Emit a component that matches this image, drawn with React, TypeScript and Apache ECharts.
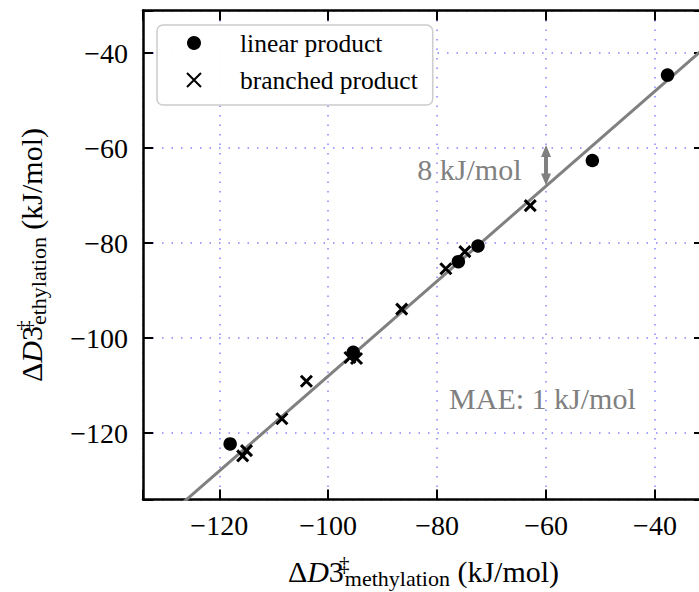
import React, { useEffect, useRef } from 'react';
import * as echarts from 'echarts';

// ---- data ----
const linearX = [-37.7, -51.5, -72.5, -76.1, -95.4, -118.0];
const linearY = [-44.6, -62.6, -80.6, -83.9, -103.0, -122.3];
const branchedX = [-62.9, -74.9, -78.4, -86.5, -96.0, -94.8, -104.0, -108.5, -115.0, -115.7];
const branchedY = [-72.1, -81.8, -85.4, -93.9, -104.1, -104.3, -109.1, -117.0, -123.7, -124.8];
const fitX = [-140, -20];
const fitY = [-148, -28];
const axisMin = -134;
const axisMax = -31;
const tickStep = 20;
const arrowX = -60;
const arrowY = [-60.6, -66.6];
const gapLabel = '8 kJ/mol';
const gapLabelAt = [-64.5, -64.4];
const maeLabel = 'MAE: 1 kJ/mol';
const maeLabelAt = [-77.8, -112.8];
const seriesNames = ['linear product', 'branched product'];

const FONT = "'Liberation Serif', 'Times New Roman', serif";
const GRAY = '#808080';
const GRID_COLOR = 'rgba(90,90,255,0.75)';

const zip = (xs: number[], ys: number[]) => xs.map((x, i) => [x, ys[i]]);

const tickFmt = (v: number) =>
  Math.abs(v / tickStep - Math.round(v / tickStep)) < 1e-6 ? String(v).replace('-', '\u2212') : '';

const nameRich = {
  a: { fontFamily: FONT, fontSize: 30, lineHeight: 36, color: '#000' },
  i: { fontFamily: FONT, fontSize: 30, lineHeight: 36, color: '#000', fontStyle: 'italic' },
  sup: { fontFamily: FONT, fontSize: 21, lineHeight: 22, verticalAlign: 'top', width: 1, color: '#000' },
  sub: { fontFamily: FONT, fontSize: 22, lineHeight: 16, verticalAlign: 'bottom', color: '#000' },
};

const axisCommon = {
  type: 'value' as const,
  min: axisMin,
  max: axisMax,
  splitNumber: 5,
  axisLine: { show: true, onZero: false, lineStyle: { color: '#000', width: 2.5 } },
  axisTick: { show: true, inside: true, length: 10, lineStyle: { color: '#000', width: 2 } },
};

export default function App() {
  const ref = useRef<HTMLDivElement>(null);
  useEffect(() => {
    if (!ref.current) return;
    const chart = echarts.init(ref.current, undefined, { renderer: 'svg' });
    const option: any = {
      animation: false,
      backgroundColor: '#fff',
      grid: {
        left: 143,
        top: 10.5,
        width: 561,
        height: 489,
        containLabel: false,
        outerBoundsMode: 'none',
      },
      legend: {
        data: seriesNames,
        orient: 'vertical',
        left: 157,
        top: 25,
        itemWidth: 14,
        itemHeight: 14,
        itemGap: 11,
        padding: [5, 15, 12, 29],
        backgroundColor: 'rgba(255,255,255,0.95)',
        borderColor: '#cccccc',
        borderWidth: 1.5,
        borderRadius: 6,
        textStyle: { fontFamily: FONT, fontSize: 25.5, lineHeight: 26, color: '#000', padding: [0, 0, 0, 34] },
      },
      xAxis: [
        {
          ...axisCommon,
          position: 'bottom',
          name: '{a|Δ}{i|D}{a|3}{sup|‡}{sub|methylation}{a| (kJ/mol)}',
          nameLocation: 'middle',
          nameGap: 54,
          nameTextStyle: { fontFamily: FONT, fontSize: 30, color: '#000', rich: nameRich },
          axisLabel: { fontFamily: FONT, fontSize: 28, color: '#000', margin: 12, formatter: tickFmt },
          splitLine: { show: true, lineStyle: { color: GRID_COLOR, width: 1.5, type: [1.5, 8] } },
        },
        {
          ...axisCommon,
          position: 'top',
          axisLabel: { show: false },
          splitLine: { show: false },
        },
      ],
      yAxis: [
        {
          ...axisCommon,
          position: 'left',
          name: '{a|Δ}{i|D}{a|3}{sup|‡}{sub|ethylation}{a| (kJ/mol)}',
          nameLocation: 'middle',
          nameRotate: 90,
          nameGap: 94,
          nameTextStyle: { fontFamily: FONT, fontSize: 30, color: '#000', rich: nameRich },
          axisLabel: { fontFamily: FONT, fontSize: 28, color: '#000', margin: 15, formatter: tickFmt },
          splitLine: { show: true, lineStyle: { color: GRID_COLOR, width: 1.5, type: [1.5, 8] } },
        },
        {
          ...axisCommon,
          position: 'right',
          axisLabel: { show: false },
          splitLine: { show: false },
        },
      ],
      series: [
        {
          name: 'fit',
          type: 'line',
          data: zip(fitX, fitY),
          showSymbol: false,
          symbol: 'none',
          clip: true,
          silent: true,
          z: 1,
          lineStyle: { color: GRAY, width: 3 },
          markLine: {
            silent: true,
            symbol: ['triangle', 'triangle'],
            symbolSize: [10, 12],
            label: { show: false },
            lineStyle: { color: GRAY, width: 4, type: 'solid' },
            itemStyle: { color: GRAY },
            data: [[{ coord: [arrowX, arrowY[0]] }, { coord: [arrowX, arrowY[1]] }]],
          },
        },
        {
          name: seriesNames[0],
          type: 'scatter',
          data: zip(linearX, linearY),
          symbol: 'circle',
          symbolSize: 13.5,
          z: 3,
          itemStyle: { color: '#000', opacity: 1 },
        },
        {
          name: seriesNames[1],
          type: 'scatter',
          data: zip(branchedX, branchedY),
          symbol: 'path://M0,0L11,11M11,0L0,11',
          symbolSize: 11,
          z: 3,
          itemStyle: { color: '#000', borderColor: '#000', borderWidth: 3, opacity: 1 },
        },
      ],
    };
    chart.setOption(option);
    const p1 = chart.convertToPixel({ gridIndex: 0 }, gapLabelAt) as number[];
    const p2 = chart.convertToPixel({ gridIndex: 0 }, maeLabelAt) as number[];
    chart.setOption({
      graphic: [
        {
          type: 'text',
          x: p1[0],
          y: p1[1],
          z: 10,
          style: { text: gapLabel, fill: GRAY, font: `30px ${FONT}`, align: 'right', verticalAlign: 'middle' },
        },
        {
          type: 'text',
          x: p2[0],
          y: p2[1],
          z: 10,
          style: { text: maeLabel, fill: GRAY, font: `30px ${FONT}`, align: 'left', verticalAlign: 'middle' },
        },
      ],
    });
    return () => chart.dispose();
  }, []);
  return (
    <div
      ref={ref}
      style={{ position: 'fixed', left: 0, top: 0, width: 699, height: 592, background: '#fff' }}
    />
  );
}
